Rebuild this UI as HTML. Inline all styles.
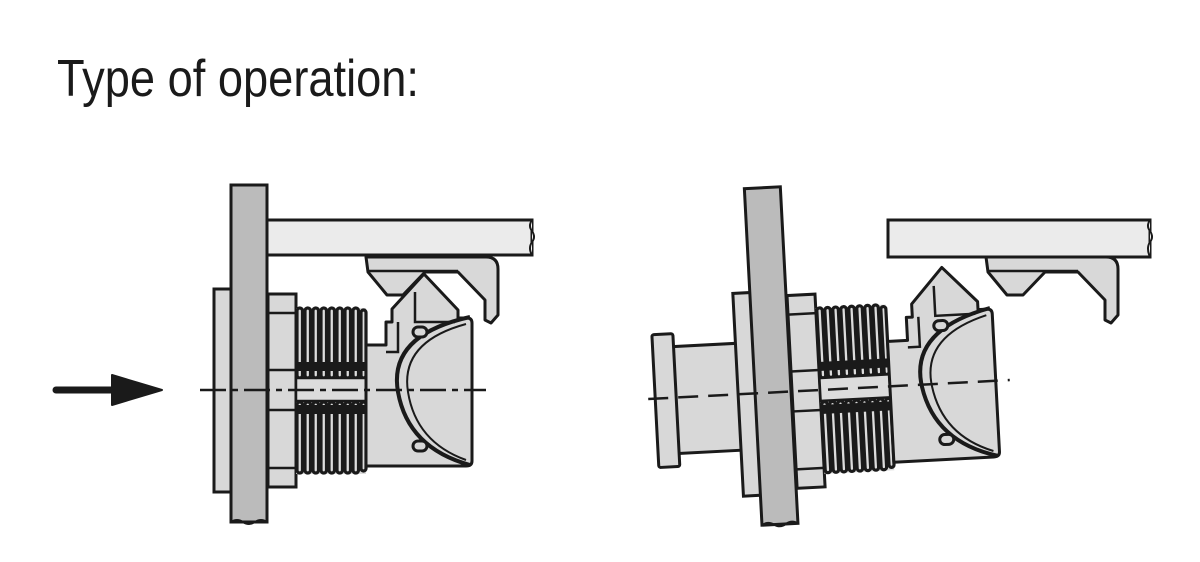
<!DOCTYPE html>
<html><head><meta charset="utf-8"><style>html,body{margin:0;padding:0;background:#fff}svg{display:block}</style></head>
<body>
<svg width="1200" height="562" viewBox="0 0 1200 562" xmlns="http://www.w3.org/2000/svg">
<defs>
<g id="hook">
<path d="M366,257 H486 Q498,257 498,269 V315 L491,323 L485,320 V300 L458,272 H425 L403,295 H387 L368,272 Z" fill="#d8d8d8" stroke="#1a1a1a" stroke-width="3" stroke-linejoin="round"/>
<line x1="367" y1="271" x2="458" y2="271" stroke="#1a1a1a" stroke-width="2.5"/>
</g>
<g id="threads">
<rect x="296" y="308" width="70" height="166" fill="#dcdcdc"/>
<g fill="#dcdcdc" stroke="#1a1a1a" stroke-width="3.2">
<rect x="297" y="308" width="5.5" height="70" rx="2.7"/><rect x="305" y="308" width="5.5" height="70" rx="2.7"/><rect x="313" y="308" width="5.5" height="70" rx="2.7"/><rect x="321" y="308" width="5.5" height="70" rx="2.7"/><rect x="329" y="308" width="5.5" height="70" rx="2.7"/><rect x="337" y="308" width="5.5" height="70" rx="2.7"/><rect x="345" y="308" width="5.5" height="70" rx="2.7"/><rect x="353" y="308" width="5.5" height="70" rx="2.7"/><rect x="361" y="310" width="5" height="68" rx="2.5"/>
<rect x="297" y="402" width="5.5" height="71" rx="2.7"/><rect x="305" y="402" width="5.5" height="71" rx="2.7"/><rect x="313" y="402" width="5.5" height="71" rx="2.7"/><rect x="321" y="402" width="5.5" height="71" rx="2.7"/><rect x="329" y="402" width="5.5" height="71" rx="2.7"/><rect x="337" y="402" width="5.5" height="71" rx="2.7"/><rect x="345" y="402" width="5.5" height="71" rx="2.7"/><rect x="353" y="402" width="5.5" height="71" rx="2.7"/><rect x="361" y="402" width="5" height="69" rx="2.5"/>
</g>
<rect x="296" y="362" width="70" height="9" fill="#1a1a1a"/>
<rect x="296" y="405" width="70" height="9" fill="#1a1a1a"/>
<rect x="296" y="378" width="70" height="23" fill="#dcdcdc" stroke="#1a1a1a" stroke-width="2.5"/>
</g>
<g id="mech">
<rect x="214" y="289" width="18" height="203" fill="#d8d8d8" stroke="#1a1a1a" stroke-width="3"/>
<rect x="231" y="185" width="36" height="337" fill="#bbbbbb" stroke="#1a1a1a" stroke-width="3"/>
<path d="M231,522 q6,-4 12,0 q6,4 12,0 q6,-4 12,0" fill="none" stroke="#1a1a1a" stroke-width="2"/>
<rect x="268" y="294" width="28" height="193" fill="#d8d8d8" stroke="#1a1a1a" stroke-width="3"/>
<g stroke="#1a1a1a" stroke-width="2.5"><line x1="268" y1="313" x2="296" y2="313"/><line x1="268" y1="370" x2="296" y2="370"/><line x1="268" y1="410" x2="296" y2="410"/><line x1="268" y1="468" x2="296" y2="468"/></g>
<use href="#threads"/>
<path d="M366,345 H386 V322 H392 V309 L424,274 L458,310 V318 H467 Q472,318 472,323 V461 Q472,466 466,466 H366 Z" fill="#d8d8d8" stroke="#1a1a1a" stroke-width="3" stroke-linejoin="round"/>
<g stroke="#1a1a1a" stroke-width="2.5" fill="none"><path d="M415,292 V322 H455"/><path d="M386,352 H398 V322"/></g>
<path d="M470,317 Q388,335 398,392 Q408,448 470,465" fill="none" stroke="#1a1a1a" stroke-width="4"/>
<path d="M466,324 Q400,342 408,392 Q416,442 466,460" fill="none" stroke="#1a1a1a" stroke-width="2"/>
<rect x="413" y="327" width="14" height="10" rx="5" fill="#d8d8d8" stroke="#1a1a1a" stroke-width="3"/>
<rect x="413" y="441" width="14" height="10" rx="5" fill="#d8d8d8" stroke="#1a1a1a" stroke-width="3"/>
</g>
</defs>

<text x="57" y="96" font-family="Liberation Sans, Arial, sans-serif" font-size="52" fill="#1a1a1a" textLength="362" lengthAdjust="spacingAndGlyphs">Type of operation:</text>

<line x1="56" y1="390" x2="118" y2="390" stroke="#1a1a1a" stroke-width="7" stroke-linecap="round"/>
<path d="M112,375 L162,390 L112,405 Z" fill="#1a1a1a" stroke="#1a1a1a" stroke-width="2" stroke-linejoin="round"/>

<rect x="267" y="220" width="265" height="35" fill="#ebebeb" stroke="#1a1a1a" stroke-width="3"/>
<path d="M532,220 q-4,6 0,11 q4,6 0,11 q-4,6 0,13" fill="#fff" stroke="#1a1a1a" stroke-width="2"/>
<use href="#hook"/>
<use href="#mech"/>
<line x1="200" y1="390" x2="486" y2="390" stroke="#1a1a1a" stroke-width="2.5" stroke-dasharray="26 6 6 6"/>

<rect x="888" y="220" width="262" height="37" fill="#ebebeb" stroke="#1a1a1a" stroke-width="3"/>
<path d="M1150,220 q-4,6 0,11 q4,6 0,11 q-4,6 0,15" fill="#fff" stroke="#1a1a1a" stroke-width="2"/>
<use href="#hook" transform="translate(620,0)"/>
<g transform="rotate(-3 820 390) translate(524 0)">
<rect x="150" y="339" width="66" height="107" fill="#d8d8d8" stroke="#1a1a1a" stroke-width="3"/>
<rect x="131" y="326" width="21" height="133" rx="2" fill="#d8d8d8" stroke="#1a1a1a" stroke-width="3"/>
<use href="#mech"/>
<line x1="124" y1="390" x2="486" y2="390" stroke="#1a1a1a" stroke-width="2.5" stroke-dasharray="20 10"/>
</g>
</svg>
</body></html>
